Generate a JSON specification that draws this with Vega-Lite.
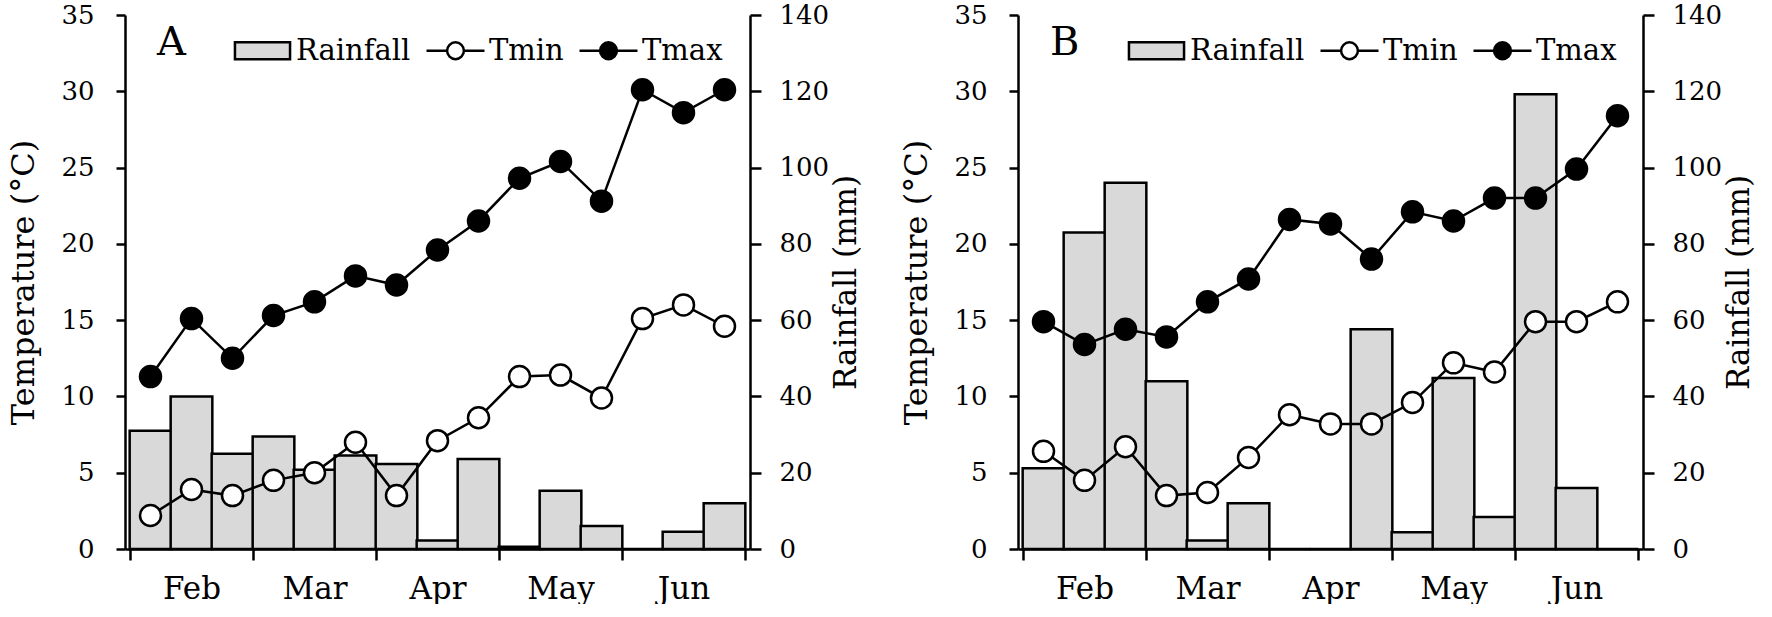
{
  "$schema": "https://vega.github.io/schema/vega-lite/v6.json",
  "background": "white",
  "padding": {"left": 7, "top": 2, "right": 0, "bottom": 0},
  "config": {
    "font": "DejaVu Serif",
    "view": {"stroke": null},
    "axis": {
      "domainColor": "black", "domainWidth": 2.5,
      "tickColor": "black", "tickWidth": 2.5, "tickSize": 10,
      "labelColor": "black", "labelFont": "DejaVu Serif", "labelFontSize": 26,
      "titleColor": "black", "titleFont": "DejaVu Serif", "titleFontSize": 32, "titleFontWeight": "normal",
      "grid": false
    },
    "legend": {
      "titleFont": "DejaVu Serif",
      "labelFont": "DejaVu Serif"
    }
  },
  "datasets": {
    "A": [
      {"dekad": 1, "rain": 31, "tmin": 2.2, "tmax": 11.3},
      {"dekad": 2, "rain": 40, "tmin": 3.9, "tmax": 15.1},
      {"dekad": 3, "rain": 25, "tmin": 3.5, "tmax": 12.5},
      {"dekad": 4, "rain": 29.5, "tmin": 4.5, "tmax": 15.3},
      {"dekad": 5, "rain": 20.8, "tmin": 5.0, "tmax": 16.2},
      {"dekad": 6, "rain": 24.5, "tmin": 7.0, "tmax": 17.9},
      {"dekad": 7, "rain": 22.3, "tmin": 3.5, "tmax": 17.3},
      {"dekad": 8, "rain": 2.2, "tmin": 7.1, "tmax": 19.6},
      {"dekad": 9, "rain": 23.6, "tmin": 8.6, "tmax": 21.5},
      {"dekad": 10, "rain": 0.6, "tmin": 11.3, "tmax": 24.3},
      {"dekad": 11, "rain": 15.3, "tmin": 11.4, "tmax": 25.4},
      {"dekad": 12, "rain": 6, "tmin": 9.9, "tmax": 22.8},
      {"dekad": 13, "rain": 0, "tmin": 15.1, "tmax": 30.1},
      {"dekad": 14, "rain": 4.5, "tmin": 16.0, "tmax": 28.6},
      {"dekad": 15, "rain": 12, "tmin": 14.6, "tmax": 30.1}
    ],
    "B": [
      {"dekad": 1, "rain": 21.2, "tmin": 6.4, "tmax": 14.9},
      {"dekad": 2, "rain": 83, "tmin": 4.5, "tmax": 13.4},
      {"dekad": 3, "rain": 96, "tmin": 6.7, "tmax": 14.4},
      {"dekad": 4, "rain": 44, "tmin": 3.5, "tmax": 13.9},
      {"dekad": 5, "rain": 2.2, "tmin": 3.7, "tmax": 16.2},
      {"dekad": 6, "rain": 12, "tmin": 6.0, "tmax": 17.7},
      {"dekad": 7, "rain": 0, "tmin": 8.8, "tmax": 21.6},
      {"dekad": 8, "rain": 0, "tmin": 8.2, "tmax": 21.3},
      {"dekad": 9, "rain": 57.6, "tmin": 8.2, "tmax": 19.0},
      {"dekad": 10, "rain": 4.4, "tmin": 9.6, "tmax": 22.1},
      {"dekad": 11, "rain": 44.8, "tmin": 12.2, "tmax": 21.5},
      {"dekad": 12, "rain": 8.4, "tmin": 11.6, "tmax": 23.0},
      {"dekad": 13, "rain": 119.2, "tmin": 14.9, "tmax": 23.0},
      {"dekad": 14, "rain": 16, "tmin": 14.9, "tmax": 24.9},
      {"dekad": 15, "rain": 0, "tmin": 16.2, "tmax": 28.4}
    ]
  },
  "resolve": {"scale": {"fill": "independent"}, "legend": {"fill": "independent"}},
  "spacing": 38,
  "hconcat": [
    {
      "width": 625, "height": 534,
      "data": {"name": "A"},
      "resolve": {"scale": {"y": "independent"}},
      "layer": [
        {
          "mark": {"type": "bar", "width": 41.67, "stroke": "black", "strokeWidth": 2.5},
          "encoding": {
            "x": {"field": "dekad", "type": "quantitative",
              "scale": {"domain": [0.5, 15.5], "nice": false, "zero": false},
              "axis": {"orient": "bottom", "title": null,
                "values": [0.5,1.5,2.5,3.5,4.5,5.5,6.5,7.5,8.5,9.5,10.5,11.5,12.5,13.5,14.5,15.5,2,5,8,11,14],
                "labelExpr": "datum.value==2?'Feb':datum.value==5?'Mar':datum.value==8?'Apr':datum.value==11?'May':datum.value==14?'Jun':''",
                "tickOpacity": {"condition": {"test": "datum.value % 1 === 0", "value": 0}, "value": 1},
                "labelFontSize": 31, "labelPadding": 14, "tickSize": 11,
                "labelOverlap": false, "labelFlush": false, "labelBound": false}},
            "y": {"field": "rain", "type": "quantitative",
              "scale": {"domain": [0, 140], "nice": false},
              "axis": {"orient": "right", "title": "Rainfall (mm)", "values": [0,20,40,60,80,100,120,140],
                "labelPadding": 18, "tickSize": 11, "titleAngle": 270, "titleBaseline": "top", "titlePadding": 3, "titleFontSize": 31}},
            "fill": {"datum": "Rainfall", "type": "nominal",
              "scale": {"domain": ["Rainfall", "Tmin", "Tmax"], "range": ["#d9d9d9", "white", "black"]},
              "legend": {
                "title": "A", "orient": "none", "legendX": 32, "legendY": 5, "direction": "horizontal",
                "titleOrient": "left", "titleFontSize": 40, "titleFontWeight": "normal", "titleColor": "black",
                "titlePadding": 46, "titleBaseline": "middle", "titleAnchor": "middle",
                "labelFontSize": 29, "labelColor": "black", "labelOffset": 3,
                "columnPadding": 10, "symbolSize": 3364, "symbolStrokeColor": "black", "symbolStrokeWidth": 2.5, "symbolOpacity": 1,
                "encode": {"symbols": {"update": {
                  "shape": {"signal": "datum.value === 'Rainfall' ? 'M-0.95,-0.29H0.95V0.29H-0.95Z' : 'M-1,0H-0.29M0.29,0H1M0.29,0A0.29,0.29 0 1 1 -0.29,0A0.29,0.29 0 1 1 0.29,0Z'"},
                  "stroke": {"value": "black"}, "strokeWidth": {"value": 2.5}, "opacity": {"value": 1}}}}
              }}
          }
        },
        {
          "layer": [
            {
              "mark": {"type": "line", "stroke": "black", "strokeWidth": 2.5},
              "encoding": {
                "x": {"field": "dekad", "type": "quantitative"},
                "y": {"field": "tmin", "type": "quantitative",
                  "scale": {"domain": [0, 35], "nice": false},
                  "axis": {"orient": "left", "title": "Temperature (°C)", "values": [0,5,10,15,20,25,30,35],
                    "labelPadding": 22, "tickSize": 9, "titlePadding": 20}}
              }
            },
            {
              "mark": {"type": "line", "stroke": "black", "strokeWidth": 2.5},
              "encoding": {
                "x": {"field": "dekad", "type": "quantitative"},
                "y": {"field": "tmax", "type": "quantitative"}
              }
            },
            {
              "mark": {"type": "circle", "size": 441, "stroke": "black", "strokeWidth": 2.5, "opacity": 1},
              "encoding": {
                "x": {"field": "dekad", "type": "quantitative"},
                "y": {"field": "tmin", "type": "quantitative"},
                "fill": {"datum": "Tmin", "type": "nominal"}
              }
            },
            {
              "mark": {"type": "circle", "size": 441, "stroke": "black", "strokeWidth": 2.5, "opacity": 1},
              "encoding": {
                "x": {"field": "dekad", "type": "quantitative"},
                "y": {"field": "tmax", "type": "quantitative"},
                "fill": {"datum": "Tmax", "type": "nominal"}
              }
            }
          ]
        }
      ]
    },
    {
      "width": 625, "height": 534,
      "data": {"name": "B"},
      "resolve": {"scale": {"y": "independent"}},
      "layer": [
        {
          "mark": {"type": "bar", "width": 41.67, "stroke": "black", "strokeWidth": 2.5},
          "encoding": {
            "x": {"field": "dekad", "type": "quantitative",
              "scale": {"domain": [0.5, 15.5], "nice": false, "zero": false},
              "axis": {"orient": "bottom", "title": null,
                "values": [0.5,1.5,2.5,3.5,4.5,5.5,6.5,7.5,8.5,9.5,10.5,11.5,12.5,13.5,14.5,15.5,2,5,8,11,14],
                "labelExpr": "datum.value==2?'Feb':datum.value==5?'Mar':datum.value==8?'Apr':datum.value==11?'May':datum.value==14?'Jun':''",
                "tickOpacity": {"condition": {"test": "datum.value % 1 === 0", "value": 0}, "value": 1},
                "labelFontSize": 31, "labelPadding": 14, "tickSize": 11,
                "labelOverlap": false, "labelFlush": false, "labelBound": false}},
            "y": {"field": "rain", "type": "quantitative",
              "scale": {"domain": [0, 140], "nice": false},
              "axis": {"orient": "right", "title": "Rainfall (mm)", "values": [0,20,40,60,80,100,120,140],
                "labelPadding": 18, "tickSize": 11, "titleAngle": 270, "titleBaseline": "top", "titlePadding": 3, "titleFontSize": 31}},
            "fill": {"datum": "Rainfall", "type": "nominal",
              "scale": {"domain": ["Rainfall", "Tmin", "Tmax"], "range": ["#d9d9d9", "white", "black"]},
              "legend": {
                "title": "B", "orient": "none", "legendX": 32, "legendY": 5, "direction": "horizontal",
                "titleOrient": "left", "titleFontSize": 40, "titleFontWeight": "normal", "titleColor": "black",
                "titlePadding": 46, "titleBaseline": "middle", "titleAnchor": "middle",
                "labelFontSize": 29, "labelColor": "black", "labelOffset": 3,
                "columnPadding": 10, "symbolSize": 3364, "symbolStrokeColor": "black", "symbolStrokeWidth": 2.5, "symbolOpacity": 1,
                "encode": {"symbols": {"update": {
                  "shape": {"signal": "datum.value === 'Rainfall' ? 'M-0.95,-0.29H0.95V0.29H-0.95Z' : 'M-1,0H-0.29M0.29,0H1M0.29,0A0.29,0.29 0 1 1 -0.29,0A0.29,0.29 0 1 1 0.29,0Z'"},
                  "stroke": {"value": "black"}, "strokeWidth": {"value": 2.5}, "opacity": {"value": 1}}}}
              }}
          }
        },
        {
          "layer": [
            {
              "mark": {"type": "line", "stroke": "black", "strokeWidth": 2.5},
              "encoding": {
                "x": {"field": "dekad", "type": "quantitative"},
                "y": {"field": "tmin", "type": "quantitative",
                  "scale": {"domain": [0, 35], "nice": false},
                  "axis": {"orient": "left", "title": "Temperature (°C)", "values": [0,5,10,15,20,25,30,35],
                    "labelPadding": 22, "tickSize": 9, "titlePadding": 20}}
              }
            },
            {
              "mark": {"type": "line", "stroke": "black", "strokeWidth": 2.5},
              "encoding": {
                "x": {"field": "dekad", "type": "quantitative"},
                "y": {"field": "tmax", "type": "quantitative"}
              }
            },
            {
              "mark": {"type": "circle", "size": 441, "stroke": "black", "strokeWidth": 2.5, "opacity": 1},
              "encoding": {
                "x": {"field": "dekad", "type": "quantitative"},
                "y": {"field": "tmin", "type": "quantitative"},
                "fill": {"datum": "Tmin", "type": "nominal"}
              }
            },
            {
              "mark": {"type": "circle", "size": 441, "stroke": "black", "strokeWidth": 2.5, "opacity": 1},
              "encoding": {
                "x": {"field": "dekad", "type": "quantitative"},
                "y": {"field": "tmax", "type": "quantitative"},
                "fill": {"datum": "Tmax", "type": "nominal"}
              }
            }
          ]
        }
      ]
    }
  ]
}
